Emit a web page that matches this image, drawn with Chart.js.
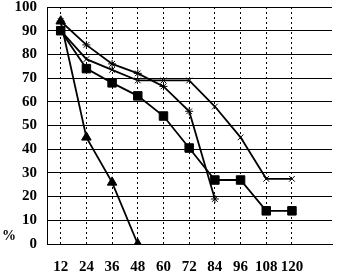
<!DOCTYPE html>
<html>
<head>
<meta charset="utf-8">
<script src="https://cdn.jsdelivr.net/npm/chart.js@4/dist/chart.umd.min.js"></script>
<style>
  html, body { margin: 0; padding: 0; background: #fff; }
  #wrap { width: 339px; height: 274px; }
</style>
</head>
<body>
<div id="wrap"><canvas id="chart"></canvas></div>
<script>
// months
const months = [12, 24, 36, 48, 60, 72, 84, 96, 108, 120];
const yTicks = [0, 10, 20, 30, 40, 50, 60, 70, 80, 90, 100];
const unitLabel = '%';

// series
const triangles = [94, 45, 26, 0, null, null, null, null, null, null];
const squares = [90, 74, 68, 62.5, 54, 40.5, 27, 27, 14, 14];
const upperCross = [94, 84, 76, 72, 66.5, 56, 19, null, null, null];
const lowerCross = [90, 78, 73.5, 69, 69, 69, 58, 45, 27.5, 27.5];

const toPoints = arr => months.map((m, i) => ({ x: m, y: arr[i] })).filter(p => p.y !== null);

const serif = '"Liberation Serif", "Times New Roman", serif';

const percentSign = {
    id: 'percentSign',
    afterDraw(chart) {
        const ctx = chart.ctx;
        const y0 = chart.scales.y.getPixelForValue(0);
        ctx.save();
        ctx.font = 'bold 14px ' + serif;
        ctx.fillStyle = '#000';
        ctx.textBaseline = 'middle';
        ctx.fillText(unitLabel, 2, y0 - 8);
        ctx.restore();
    }
};

const line = (data, style, radius) => ({
    data: toPoints(data),
    borderColor: '#000',
    backgroundColor: '#000',
    borderWidth: 1.8,
    pointStyle: style,
    pointRadius: radius,
    pointBorderWidth: 1,
    pointBorderColor: '#000',
    pointBackgroundColor: '#000',
    tension: 0,
});

new Chart(document.getElementById('chart'), {
    type: 'line',
    data: {
        datasets: [
            line(upperCross, 'star', 4),
            line(lowerCross, 'crossRot', 4),
            line(squares, 'rect', 6),
            line(triangles, 'triangle', 5.5),
        ],
    },
    options: {
        responsive: true,
        maintainAspectRatio: false,
        animation: false,
        layout: { padding: { top: 5, left: 0, right: 0, bottom: 0 } },
        plugins: {
            legend: { display: false },
            tooltip: { enabled: false },
        },
        scales: {
            x: {
                type: 'linear',
                min: 5.6,
                max: 138.7,
                afterBuildTicks: scale => { scale.ticks = months.map(v => ({ value: v })); },
                afterFit: scale => {
                    scale.height = 30;
                    scale.paddingLeft = 0;
                    scale.paddingRight = 0;
                },
                grid: { color: '#000', lineWidth: 1, drawTicks: false },
                border: { display: true, color: '#000', width: 1, dash: [2, 3] },
                ticks: {
                    padding: 14,
                    color: '#000',
                    font: { family: serif, size: 15, weight: 'bold' },
                    maxRotation: 0,
                    autoSkip: false,
                },
            },
            y: {
                min: 0,
                max: 100,
                afterBuildTicks: scale => { scale.ticks = yTicks.map(v => ({ value: v })); },
                afterFit: scale => {
                    scale.width = 47;
                    scale.paddingTop = 0;
                    scale.paddingBottom = 0;
                },
                grid: { color: '#000', lineWidth: 1, drawTicks: false },
                border: { display: true, color: '#000', width: 1 },
                ticks: {
                    padding: 10,
                    color: '#000',
                    font: { family: serif, size: 15, weight: 'bold' },
                },
            },
        },
    },
    plugins: [percentSign],
});
</script>
</body>
</html>
